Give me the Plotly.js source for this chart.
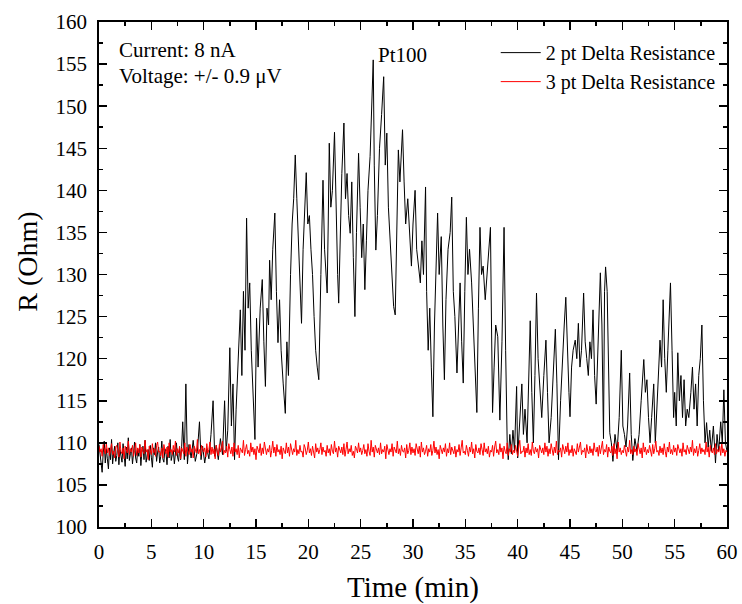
<!DOCTYPE html>
<html>
<head>
<meta charset="utf-8">
<script src="https://cdn.plot.ly/plotly-3.0.1.min.js"></script>
<style>html,body{margin:0;padding:0;background:#fff;}#chart{width:742px;height:604px;}</style>
</head>
<body>
<div id="chart"></div>
<script>
// 2 pt Delta Resistance (black) — time (min) and resistance (Ohm)
const twoPtTime = [
0,0.1,0.2,0.3,0.4,0.5,0.6,0.7,0.8,0.9,1.0,1.1,1.2,1.3,1.4,1.5,1.6,1.7,1.8,1.9,
2.0,2.1,2.2,2.3,2.4,2.5,2.6,2.7,2.8,2.9,3.0,3.1,3.2,3.3,3.4,3.5,3.6,3.7,3.8,3.9,
4.0,4.1,4.2,4.3,4.4,4.5,4.6,4.7,4.8,4.9,5.0,5.1,5.2,5.3,5.4,5.5,5.6,5.7,5.8,5.9,
6.0,6.1,6.2,6.3,6.4,6.5,6.6,6.7,6.8,6.9,7.0,7.1,7.2,7.3,7.4,7.5,7.6,7.7,7.8,7.9,
8.0,8.15,8.3,8.45,8.6,8.8,9.0,9.2,9.4,9.6,9.75,9.9,10.1,10.3,10.5,10.7,10.9,11.05,11.2,11.4,
11.6,11.8,12.0,12.15,12.3,12.5,12.65,12.8,12.95,13.1,13.3,13.5,13.65,13.8,13.95,14.1,14.25,14.4,14.55,14.7,
14.9,15.05,15.2,15.4,15.6,15.75,15.9,16.05,16.2,16.3,16.45,16.6,16.8,16.95,17.1,17.25,17.4,17.6,17.8,17.95,
18.1,18.3,18.45,18.6,18.75,18.9,19.05,19.2,19.35,19.5,19.65,19.8,19.95,20.1,20.25,20.4,20.55,20.7,20.85,21.0,
21.2,21.4,21.55,21.7,21.8,21.9,22.0,22.15,22.3,22.5,22.65,22.8,22.9,23.05,23.2,23.4,23.55,23.7,23.85,24.0,
24.15,24.3,24.45,24.6,24.8,24.95,25.1,25.25,25.4,25.55,25.7,25.9,26.05,26.2,26.3,26.45,26.6,26.8,27.0,27.2,
27.35,27.5,27.65,27.8,28.0,28.15,28.3,28.45,28.6,28.75,28.9,29.0,29.15,29.3,29.5,29.7,29.85,30.0,30.2,30.35,
30.5,30.7,30.85,31.0,31.2,31.3,31.45,31.6,31.75,31.9,32.05,32.2,32.35,32.5,32.7,32.85,33.0,33.15,33.35,33.55,
33.7,33.85,34.0,34.2,34.35,34.5,34.65,34.8,34.95,35.1,35.25,35.4,35.6,35.75,35.9,36.1,36.25,36.4,36.55,36.7,
36.9,37.05,37.2,37.4,37.5,37.6,37.75,37.9,38.1,38.2,38.3,38.5,38.7,38.85,39.0,39.1,39.25,39.4,39.55,39.7,
39.9,40.0,40.15,40.4,40.55,40.7,40.9,41.05,41.2,41.35,41.5,41.65,41.8,41.95,42.1,42.3,42.5,42.7,42.85,43.0,
43.2,43.4,43.6,43.75,43.9,44.1,44.3,44.45,44.6,44.75,44.9,45.0,45.15,45.3,45.5,45.65,45.8,45.95,46.1,46.3,
46.45,46.6,46.75,46.9,47.05,47.2,47.35,47.5,47.65,47.8,47.9,48.05,48.2,48.3,48.4,48.55,48.7,48.8,48.95,49.1,
49.3,49.5,49.7,49.9,50.05,50.2,50.35,50.5,50.7,50.85,51.0,51.2,51.4,51.6,51.8,51.95,52.05,52.2,52.35,52.5,
52.65,52.8,53.0,53.15,53.3,53.45,53.6,53.75,53.9,54.05,54.2,54.35,54.5,54.6,54.75,54.9,55.0,55.15,55.3,55.45,
55.6,55.75,55.9,56.05,56.2,56.35,56.55,56.7,56.85,57.0,57.15,57.3,57.45,57.6,57.75,57.9,58.05,58.2,58.35,58.5,
58.7,58.9,59.05,59.2,59.4,59.55,59.7,59.85,60.0
];
const twoPtR = [
109.8,108.6,107.9,106.5,108.8,110.2,107.6,109.3,108.1,106.9,
109.4,108.0,110.4,107.5,108.8,109.6,107.8,108.5,110.0,107.4,
109.2,108.3,107.7,109.9,108.6,107.2,109.5,108.1,110.6,107.9,
108.7,109.4,107.5,108.9,110.1,108.2,107.6,109.3,108.4,109.8,
107.3,108.9,109.6,108.0,110.3,107.7,108.5,109.2,107.9,109.7,
108.3,107.1,109.4,108.6,110.0,107.8,108.9,109.5,107.6,108.4,
110.2,108.1,107.7,109.3,108.8,107.4,109.6,108.2,110.4,107.9,
108.6,109.1,107.5,108.9,110.0,108.3,107.8,109.4,108.0,109.6,
112.5,108.0,117.0,107.5,109.8,108.2,110.3,107.8,109.0,112.5,108.0,109.6,107.6,109.3,108.1,111.0,115.0,108.4,109.7,108.0,
110.5,108.6,115.0,109.0,111.5,121.3,112.0,117.0,108.0,114.0,120.0,125.8,118.0,128.0,121.0,136.7,126.0,129.0,121.0,117.0,
110.4,124.8,119.0,126.0,129.4,122.0,116.7,126.0,124.0,131.7,127.0,133.0,137.3,128.0,121.9,127.0,121.0,117.0,113.5,122.0,
118.0,130.0,136.0,139.0,144.2,139.0,134.0,128.0,124.2,133.0,138.0,142.1,136.0,137.0,133.0,130.0,125.0,121.0,119.0,117.5,
130.0,141.2,133.0,130.0,127.8,136.0,145.6,138.0,140.0,146.9,137.0,130.0,126.6,136.0,142.0,148.0,139.0,142.0,137.0,134.9,
141.0,132.0,125.0,135.0,144.4,138.0,132.0,136.0,128.2,134.0,140.0,144.0,149.0,155.5,143.0,132.9,137.0,145.0,149.0,153.5,
143.0,146.8,138.0,134.0,130.0,126.2,125.2,137.0,144.8,141.0,144.0,147.2,141.0,136.0,139.0,134.1,131.0,136.0,140.0,133.0,
131.0,129.0,134.0,130.0,140.4,128.0,121.0,126.0,119.0,113.1,124.0,130.0,137.3,130.0,134.5,124.0,117.5,127.0,133.0,135.0,
139.2,128.0,125.0,118.3,125.0,129.0,122.0,117.1,128.0,136.8,130.0,133.0,129.0,124.0,119.0,113.6,126.0,135.6,130.0,131.0,
127.0,130.0,133.0,135.6,124.0,113.6,119.0,124.0,122.6,116.0,112.7,122.0,135.6,121.0,110.0,108.0,111.0,108.7,111.5,109.0,
116.7,108.2,112.0,117.0,111.0,114.0,110.0,118.0,124.5,116.0,110.0,118.0,127.8,120.0,117.0,113.0,118.0,122.2,116.0,110.0,
113.0,118.0,123.5,117.0,108.0,115.0,121.0,124.0,127.3,120.0,116.0,113.1,119.0,121.0,122.2,120.0,124.2,119.0,121.0,127.8,
122.0,120.0,118.0,122.0,120.0,125.8,118.0,114.6,121.0,126.0,130.2,124.0,110.5,128.0,130.9,128.0,118.0,111.2,110.0,107.8,
111.0,109.0,113.0,121.0,112.0,111.0,109.5,112.0,118.3,111.0,107.9,110.5,109.0,111.0,115.0,118.0,119.9,116.0,117.5,113.0,
110.0,113.0,117.0,110.0,114.0,118.0,122.2,119.0,127.0,120.0,116.0,121.0,125.0,129.0,121.0,113.0,116.0,112.0,120.7,115.0,
118.0,113.0,117.5,112.0,114.0,113.0,116.0,119.0,114.0,117.0,112.0,118.0,120.0,124.0,115.0,110.0,112.4,109.5,111.5,109.0,
112.0,107.6,111.0,109.0,112.5,110.0,116.3,110.0,109.0
];

// 3 pt Delta Resistance (red) — sampled every 0.1 min from 0 to 60
const threePtStart = 0;
const threePtStep = 0.1;
const threePtR = [
109.6,108.9,109.3,108.4,109.8,109.1,108.7,110.0,108.8,109.4,
108.5,109.2,109.9,108.6,109.0,108.2,109.5,109.7,108.9,108.3,
110.1,109.0,108.7,109.4,108.1,109.6,109.2,108.8,110.2,108.6,
109.3,108.9,109.7,108.4,109.1,110.0,108.5,109.4,108.8,109.8,
108.3,109.5,109.0,108.7,110.3,108.9,109.2,108.0,109.6,109.1,
108.6,109.9,108.8,109.3,108.4,109.7,110.1,108.9,109.0,108.5,
109.4,108.2,109.8,109.1,108.7,109.5,108.3,110.0,108.9,109.2,
108.6,109.7,108.9,110.2,108.5,109.3,108.8,109.6,108.1,109.4,
109.0,108.7,110.0,108.4,109.5,109.1,108.6,109.8,108.9,109.3,
108.2,109.6,109.0,108.8,110.4,108.7,109.2,108.5,109.7,109.1,
108.9,109.4,108.3,109.9,108.8,109.2,110.1,108.6,109.5,108.7,
109.3,108.1,109.7,109.0,108.5,109.8,108.9,109.4,110.2,108.6,
109.1,108.8,109.6,108.3,109.9,109.2,108.7,109.5,108.4,110.0,
108.9,109.3,108.6,109.7,108.2,109.4,109.0,108.8,110.3,108.5,
109.2,109.8,108.7,109.1,108.4,110.0,108.9,109.5,108.6,109.3,
108.0,109.6,109.2,108.8,109.9,108.5,109.4,108.7,110.1,109.0,
108.6,109.3,108.9,109.7,108.3,109.1,110.2,108.8,109.5,108.4,
109.8,108.9,109.2,108.6,109.6,108.1,109.4,109.0,108.7,110.0,
108.8,109.5,108.4,109.9,109.1,108.6,109.3,108.9,110.3,108.5,
109.2,108.7,109.7,108.9,109.0,108.3,109.8,109.4,108.6,109.1,
110.1,108.8,109.3,108.5,109.6,109.0,108.2,109.9,108.9,109.4,
108.7,109.2,110.0,108.6,109.5,108.9,109.1,108.4,109.7,108.8,
109.3,108.5,109.8,109.0,108.7,110.2,108.9,109.4,108.3,109.6,
109.1,108.8,109.5,108.6,109.9,108.4,109.2,110.1,108.7,109.3,
108.9,109.7,108.5,109.0,108.2,109.6,109.3,108.8,110.0,108.9,
109.4,108.6,109.1,109.8,108.7,109.2,108.4,109.9,109.0,108.5,
110.3,108.9,109.5,108.3,109.7,109.1,108.8,109.4,108.6,110.0,
108.7,109.2,108.9,109.6,108.1,109.8,109.0,108.6,109.3,108.9,
109.9,108.4,109.5,109.1,108.8,110.2,108.7,109.3,108.5,109.7,
109.0,108.9,109.4,108.2,109.8,108.7,109.1,110.0,108.6,109.5,
108.8,109.3,108.5,109.9,109.2,108.7,109.6,108.3,110.1,108.9,
109.4,108.6,109.0,109.7,108.4,109.3,108.9,109.8,108.5,109.1,
110.2,108.8,109.5,108.6,109.2,108.1,109.7,109.0,108.7,109.4,
108.9,109.9,108.4,109.3,108.8,110.0,108.6,109.5,109.1,108.7,
109.6,108.3,109.2,108.9,109.8,108.5,109.4,110.3,108.8,109.0,
108.6,109.7,109.1,108.4,109.5,108.9,110.1,108.7,109.3,108.2,
109.8,109.0,108.8,109.4,108.6,109.9,109.2,108.5,110.0,108.9,
109.3,108.7,109.6,108.3,109.1,108.9,109.7,108.4,109.5,110.2,
108.8,109.2,108.6,109.9,108.9,109.4,108.1,109.6,109.0,108.7,
110.0,108.5,109.3,108.9,109.8,108.6,109.1,108.8,109.7,109.2,
108.4,109.5,110.3,108.7,109.0,108.9,109.6,108.3,109.4,108.8,
109.9,108.6,109.2,108.5,110.1,109.0,108.7,109.5,108.9,109.3,
108.2,109.7,109.1,108.8,109.4,108.6,110.0,108.9,109.6,108.4,
109.3,108.7,109.9,109.0,108.5,109.5,108.8,110.2,108.6,109.1,
108.9,109.4,108.3,109.8,109.2,108.7,109.6,108.9,110.0,108.5,
109.2,108.8,109.7,108.4,109.3,109.0,108.6,109.9,108.9,109.5,
110.1,108.6,109.1,108.9,109.4,108.2,109.8,109.0,108.7,109.6,
108.8,109.3,108.5,110.0,109.1,108.9,109.5,108.4,109.7,108.7,
109.4,110.2,108.6,109.2,108.9,109.8,108.3,109.5,109.0,108.8,
109.6,108.5,109.9,108.7,109.3,108.1,110.1,108.9,109.4,108.6,
109.1,108.8,109.7,109.0,108.4,109.5,108.9,110.3,108.7,109.2,
108.6,109.6,108.9,109.3,108.5,109.9,109.1,108.7,109.4,108.2,
110.0,108.9,109.5,108.6,109.2,108.8,109.7,109.0,108.4,109.8,
108.7,109.3,110.2,108.9,109.1,108.5,109.6,108.8,109.4,108.6,
109.9,109.0,108.3,109.5,108.9,110.1,108.7,109.2,108.6,109.7,
108.9,109.4,108.5,109.8,109.1,108.8,109.3,108.4,110.0,108.9,
109.2,108.6,109.7,109.0,108.7,109.5,108.9,110.3,108.5,109.3,
108.8,109.6,108.4,109.1,109.9,108.7,109.4,108.9,109.2,108.6,
110.1,108.9,109.5,108.3,109.7,109.0,108.8,109.4,108.6,109.9,
108.7,109.2,108.9,109.6,108.5,110.0,108.8,109.3,108.4,109.1,
108.9
];

const seriesNames = ['2 pt Delta Resistance', '3 pt Delta Resistance'];
const xTickVals = [0,5,10,15,20,25,30,35,40,45,50,55,60];
const yTickVals = [100,105,110,115,120,125,130,135,140,145,150,155,160];
const notes = ['Current: 8 nA', 'Voltage: +/- 0.9 \u03BCV'];
const sampleLabel = 'Pt100';
const xTitle = 'Time (min)';
const yTitle = 'R (Ohm)';

const FONT = 'Liberation Serif, Times New Roman, serif';

const traces = [
  {x: twoPtTime, y: twoPtR, type: 'scatter', mode: 'lines', name: seriesNames[0],
   line: {color: '#000000', width: 1}},
  {x0: threePtStart, dx: threePtStep, y: threePtR, type: 'scatter', mode: 'lines', name: seriesNames[1],
   line: {color: '#ff0000', width: 1}}
];

const axisCommon = {
  showline: true, linecolor: '#000', linewidth: 1.8, mirror: 'allticks',
  ticks: 'inside', ticklen: 8, tickwidth: 1.5, tickcolor: '#000',
  showgrid: false, zeroline: false,
  tickfont: {family: FONT, size: 21, color: '#000'},
  minor: {ticks: 'inside', ticklen: 4, tickwidth: 1.5, tickcolor: '#000', dtick: 2.5, showgrid: false}
};

const layout = {
  width: 742, height: 604,
  margin: {l: 99, r: 15, t: 22, b: 77},
  paper_bgcolor: '#fff', plot_bgcolor: '#fff',
  font: {family: FONT, color: '#000'},
  showlegend: true,
  legend: {x: 0.99, xanchor: 'right', y: 0.978, yanchor: 'top', bgcolor: 'rgba(0,0,0,0)',
           font: {family: FONT, size: 20, color: '#000'}, tracegroupgap: 0, itemwidth: 40},
  xaxis: Object.assign({}, axisCommon, {
    range: [0, 60], tickvals: xTickVals, ticktext: xTickVals.map(String),
    ticklabelstandoff: 5,
    title: {text: xTitle, font: {family: FONT, size: 29, color: '#000'}, standoff: 14}
  }),
  yaxis: Object.assign({}, axisCommon, {
    range: [100, 160], tickvals: yTickVals, ticktext: yTickVals.map(String),
    ticklabelstandoff: 6
  }),
  annotations: [
    {text: yTitle, xref: 'paper', yref: 'paper', x: -0.114, y: 0.526, xanchor: 'center', yanchor: 'middle',
     textangle: -90, showarrow: false, font: {family: FONT, size: 28, color: '#000'}},
    {text: notes[0], xref: 'paper', yref: 'paper', x: 0.028, y: 0.945, xanchor: 'left', yanchor: 'middle',
     showarrow: false, font: {family: FONT, size: 21, color: '#000'}},
    {text: notes[1], xref: 'paper', yref: 'paper', x: 0.028, y: 0.893, xanchor: 'left', yanchor: 'middle',
     showarrow: false, font: {family: FONT, size: 21, color: '#000'}},
    {text: sampleLabel, xref: 'paper', yref: 'paper', x: 0.483, y: 0.935, xanchor: 'center', yanchor: 'middle',
     showarrow: false, font: {family: FONT, size: 21, color: '#000'}}
  ]
};

Plotly.newPlot('chart', traces, layout, {displayModeBar: false, staticPlot: true});
</script>
</body>
</html>
